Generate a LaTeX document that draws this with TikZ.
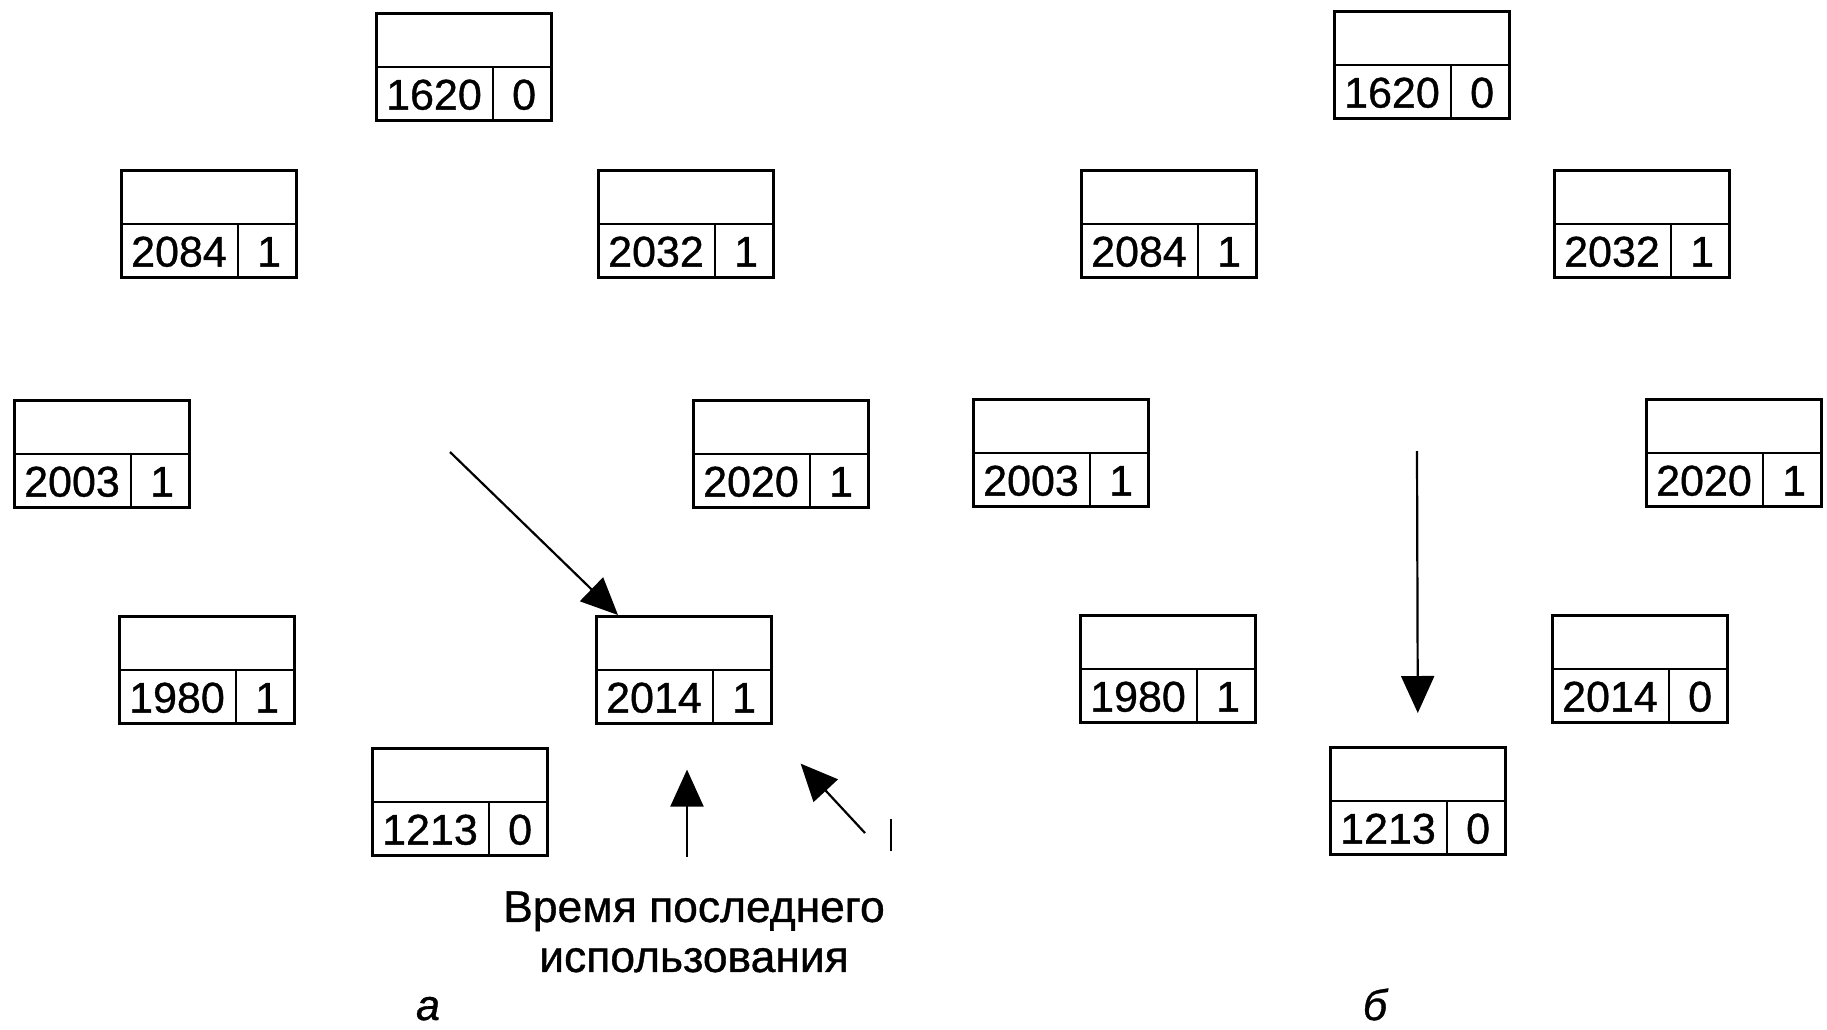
\documentclass[tikz,border=0pt]{standalone}
\usepackage{fontspec}
\setmainfont[FakeBold=0.8]{Liberation Sans}
\usetikzlibrary{arrows.meta}

\begin{document}
\begin{tikzpicture}[
    x=0.5pt, y=-0.5pt,
    frame/.style={draw, line width=1.3pt, minimum width=87.5pt, minimum height=53.5pt, inner sep=0pt, anchor=north west},
    rule/.style={line width=1.3pt},
    num/.style={inner sep=0pt, font=\fontsize{21.5}{24}\selectfont},
    ptr/.style={-{Triangle[length=18.5pt, width=16.5pt]}, line width=1.1pt}
]
\useasboundingbox (0,0) rectangle (1827,1029);

% page frames: name / left / top / time of last use / R bit
\foreach \nm/\cx/\cy/\tm/\bit in {
    a1620/375/12/1620/0, a2084/120/169/2084/1, a2032/597/169/2032/1,
    a2003/13/399/2003/1, a2020/692/399/2020/1, a1980/118/615/1980/1,
    a2014/595/615/2014/1, a1213/371/747/1213/0,
    b1620/1333/10/1620/0, b2084/1080/169/2084/1, b2032/1553/169/2032/1,
    b2003/972/398/2003/1, b2020/1645/398/2020/1, b1980/1079/614/1980/1,
    b2014/1551/614/2014/0, b1213/1329/746/1213/0} {
  \node[frame] (\nm) at (\cx,\cy) {};
  \draw[rule] (\nm.west) -- (\nm.east);
  \draw[rule] ([xshift=59pt]\nm.south west) -- ([xshift=59pt]\nm.west);
  \node[num] at ([xshift=29.5pt, yshift=13.4pt]\nm.south west) {\tm};
  \node[num] at ([xshift=-14.25pt, yshift=13.4pt]\nm.south east) {\bit};
}

% clock hands
\coordinate (hand a) at (450,452);
\coordinate (hand b) at (1417,451);
\draw[ptr] (hand a) -- ([xshift=11.5pt]a2014.north west);
\draw[ptr] (hand b) -- ([yshift=16.5pt]b1213.north);

% caption pointers
\node[align=center, inner sep=0pt, anchor=north, font=\fontsize{22.2}{25}\selectfont] (caption) at (694,891) {Время последнего\\использования};
\coordinate (tail up) at (687,857);
\coordinate (tail diag) at (865,833);
\draw[ptr] (tail up) -- ([xshift=46pt, yshift=-22.5pt]a2014.south west);
\draw[ptr] (tail diag) -- ([xshift=14pt, yshift=-19.5pt]a2014.south east);
\draw[rule] (891,819) -- (891,851);

\node[anchor=base, inner sep=0pt, font=\fontsize{21.5}{24}\selectfont\itshape] (lbl a) at (428,1020) {а};
\node[anchor=base, inner sep=0pt, font=\fontsize{21.5}{24}\selectfont\itshape] (lbl b) at (1375,1020) {б};
\end{tikzpicture}
\end{document}
